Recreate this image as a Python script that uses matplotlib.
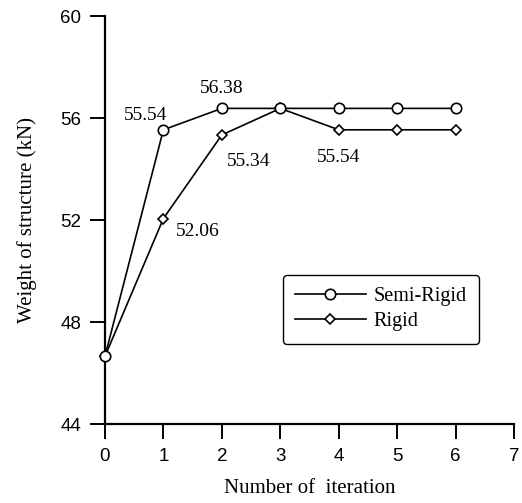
import matplotlib
matplotlib.use("Agg")
import matplotlib.pyplot as plt

# data
iterations = [0, 1, 2, 3, 4, 5, 6]
semi_rigid = [46.65, 55.54, 56.38, 56.38, 56.38, 56.38, 56.38]
rigid = [46.65, 52.06, 55.34, 56.38, 55.54, 55.54, 55.54]

# annotated values: (x, y, text)
notes = [(1, 55.54, '55.54'), (2, 56.38, '56.38'), (2, 55.34, '55.34'),
         (1, 52.06, '52.06'), (4, 55.54, '55.54')]
note_offsets = [(-13, 10), (0, 14), (19, -19), (25, -9), (0, -20)]

serif = 'Liberation Serif'
sans = 'Liberation Sans'

fig = plt.figure(figsize=(5.22, 5.03), dpi=100)
ax = fig.add_axes([0.201, 0.157, 0.784, 0.811])

ax.plot(iterations, semi_rigid, color='black', lw=1.2, marker='o',
        markersize=7.5, markerfacecolor='white', markeredgewidth=1.2,
        label='Semi-Rigid', zorder=3, clip_on=False)
ax.plot(iterations, rigid, color='black', lw=1.2, marker='D',
        markersize=5, markerfacecolor='white', markeredgewidth=1.2,
        label='Rigid', zorder=2, clip_on=False)

for (x, y, t), (dx, dy) in zip(notes, note_offsets):
    ax.annotate(t, (x, y), xytext=(dx, dy), textcoords='offset points',
                ha='center', va='center', fontsize=14, family=serif)

ax.set_xlim(0, 7)
ax.set_ylim(44, 60)
ax.set_xticks(range(0, 8))
ax.set_yticks([44, 48, 52, 56, 60])

for side in ['top', 'right']:
    ax.spines[side].set_visible(False)
for side in ['left', 'bottom']:
    ax.spines[side].set_linewidth(1.6)

ax.tick_params(direction='out', length=11, width=1.4, labelsize=13.5, pad=6)
for lab in ax.get_xticklabels() + ax.get_yticklabels():
    lab.set_family(sans)

ax.set_xlabel('Number of  iteration', fontsize=15, family=serif, labelpad=10)
ax.set_ylabel('Weight of structure (kN)', fontsize=15, family=serif, labelpad=17)

leg = ax.legend(loc='upper left', bbox_to_anchor=(0.435, 0.365),
                borderaxespad=0, prop={'family': serif, 'size': 14.5},
                handlelength=3.5, handletextpad=0.4,
                fancybox=True, edgecolor='black', framealpha=1,
                borderpad=0.6, labelspacing=0.3)
leg.get_frame().set_linewidth(1.0)

fig.savefig('out.png', dpi=100)
